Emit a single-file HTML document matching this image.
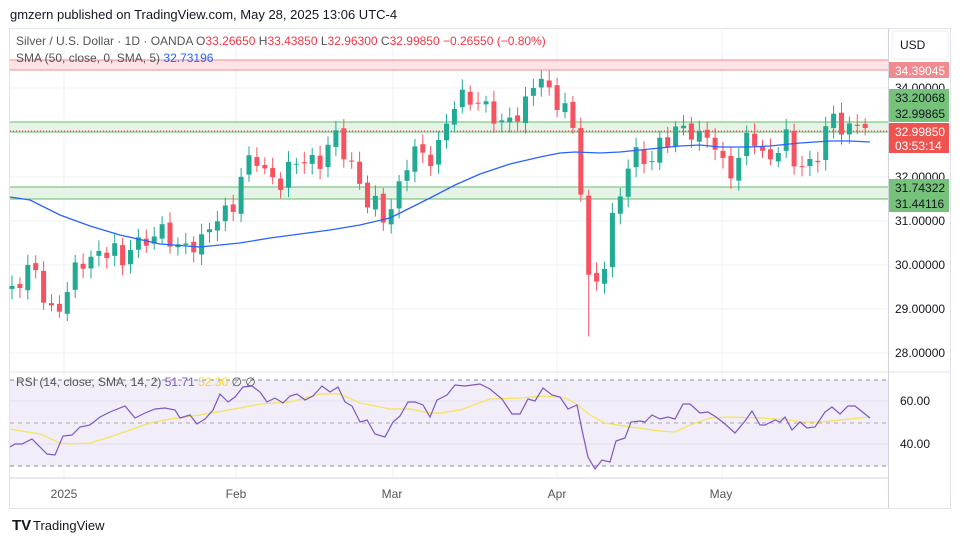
<!DOCTYPE html>
<html><head><meta charset="utf-8"><style>
body{margin:0;background:#fff;width:964px;height:544px;overflow:hidden;font-family:"Liberation Sans",sans-serif}
svg text{font-family:"Liberation Sans",sans-serif}
</style></head><body>
<svg id="s" width="964" height="544" xmlns="http://www.w3.org/2000/svg">
<rect width="964" height="544" fill="#fff"/>
<text x="10" y="19" font-size="13" fill="#131722">gmzern published on TradingView.com, May 28, 2025 13:06 UTC-4</text>
<rect x="9.5" y="28.5" width="941" height="480" fill="none" stroke="#e0e3eb"/>
<g id="grid"></g>
<rect x="10" y="60" width="878" height="10" fill="#fde3e5"/>
<line x1="10" x2="888" y1="60" y2="60" stroke="#f28b8f"/><line x1="10" x2="888" y1="70" y2="70" stroke="#f28b8f"/>
<rect x="10" y="122" width="878" height="10" fill="#e6f4e7"/>
<line x1="10" x2="888" y1="122" y2="122" stroke="#66bb6a"/><line x1="10" x2="888" y1="132" y2="132" stroke="#66bb6a"/>
<rect x="10" y="187" width="878" height="12" fill="#e6f4e7"/>
<line x1="10" x2="888" y1="187" y2="187" stroke="#66bb6a"/><line x1="10" x2="888" y1="199" y2="199" stroke="#66bb6a"/>
<line x1="10" x2="888" y1="131" y2="131" stroke="#f23645" stroke-dasharray="1,2"/>
<g id="c"></g>
<polyline fill="none" stroke="#2962ff" stroke-width="1.3" points="10,197 30,200 60,215 90,226 120,235 160,244 200,247 240,243 270,238 300,234 330,230 360,225 390,218 410,208 430,198 455,185 480,174 510,164 540,157 560,153 575,152 600,153 620,152 640,150 660,148 680,146 700,145 720,147 750,147 770,146 800,143 830,141 850,141 870,142"/>
<text x="16" y="45" font-size="12" fill="#555">Silver / U.S. Dollar · 1D · OANDA  <tspan fill="#555">O</tspan><tspan fill="#f23645">33.26650</tspan> H<tspan fill="#f23645">33.43850</tspan> L<tspan fill="#f23645">32.96300</tspan> C<tspan fill="#f23645">32.99850 −0.26550 (−0.80%)</tspan></text>
<text x="16" y="62" font-size="12" fill="#555">SMA (50, close, 0, SMA, 5)  <tspan fill="#2962ff">32.73196</tspan></text>
<line x1="10" x2="950" y1="372" y2="372" stroke="#e0e3eb"/>
<rect x="10" y="380" width="878" height="86" fill="#f1edf9"/>
<line x1="10" x2="888" y1="380" y2="380" stroke="#888" stroke-dasharray="4,4"/>
<line x1="10" x2="888" y1="423" y2="423" stroke="#aaa" stroke-dasharray="4,4"/>
<line x1="10" x2="888" y1="466" y2="466" stroke="#888" stroke-dasharray="4,4"/>
<line x1="10" x2="888" y1="401" y2="401" stroke="#e4e0ee"/><line x1="10" x2="888" y1="444" y2="444" stroke="#e4e0ee"/>
<polyline fill="none" stroke="#f7e35a" stroke-width="1.2" points="10,429 40,434 60,443 70,444 90,443 110,437 130,430 150,423 170,419 200,415 240,408 260,404 290,402 320,394 340,394 360,403 390,409 410,409 430,413 440,413 460,410 490,399 520,398 545,396 565,398 575,403 590,415 605,423 630,427 660,431 675,432 690,425 710,418 730,417 760,418 790,420 800,422 820,422 840,420 870,417"/>
<polyline fill="none" stroke="#7e57c2" stroke-width="1.2" points="10,447 15,444 22,444 32,439 47,454 55,455 63,436 72,435 80,427 90,425 100,417 110,412 125,406 135,418 145,413 155,409 165,408 175,410 180,418 190,415 197,424 205,419 213,410 220,394 228,402 235,397 243,387 252,386 260,392 267,402 275,398 283,403 290,396 297,394 305,400 313,396 322,386 330,392 338,387 345,402 352,406 360,422 367,420 375,434 385,437 393,422 400,416 408,402 415,402 423,405 430,417 437,400 447,395 455,385 465,386 480,384 490,389 502,399 512,414 520,414 528,399 535,401 543,388 552,395 560,397 568,409 577,405 582,430 588,457 595,469 602,460 610,462 616,441 625,438 631,422 640,421 645,422 652,415 660,419 668,417 675,419 683,404 690,404 700,413 708,412 716,417 725,424 735,433 745,421 752,411 760,425 765,425 775,420 780,422 785,417 792,430 800,422 807,428 815,427 825,412 832,407 840,414 848,406 855,406 870,418"/>
<text x="16" y="386" font-size="12" fill="#555">RSI (14, close, SMA, 14, 2)  <tspan fill="#7e57c2">51.71</tspan>  <tspan fill="#f7d733">52.30</tspan>  ∅  ∅</text>
<line x1="10" x2="888" y1="478" y2="478" stroke="#d1d4dc"/>
<line x1="888.5" x2="888.5" y1="28" y2="508" stroke="#d1d4dc"/>
<g font-size="12" fill="#555" text-anchor="middle">
<text x="64" y="498">2025</text><text x="236" y="498">Feb</text><text x="392" y="498">Mar</text><text x="557" y="498">Apr</text><text x="721" y="498">May</text></g>
<rect x="892" y="31" width="56" height="28" rx="3" fill="#fff" stroke="#eee"/>
<text x="900" y="49" font-size="12" fill="#131722">USD</text>
<g font-size="12" fill="#131722">
<text x="895" y="92">34.00000</text><text x="895" y="181">32.00000</text><text x="895" y="225">31.00000</text>
<text x="895" y="269">30.00000</text><text x="895" y="313">29.00000</text><text x="895" y="357">28.00000</text>
<text x="900" y="405">60.00</text><text x="900" y="448">40.00</text></g>
<rect x="889" y="62" width="60" height="16" fill="#f28b8f"/><text x="895" y="75" font-size="12" fill="#fff">34.39045</text>
<rect x="889" y="89" width="60" height="33" fill="#76c27a"/><text x="895" y="102" font-size="12" fill="#131722">33.20068</text><text x="895" y="118" font-size="12" fill="#131722">32.99865</text>
<rect x="889" y="123" width="60" height="30" fill="#ef5350"/><text x="895" y="136" font-size="12" fill="#fff">32.99850</text><text x="895" y="150" font-size="12" fill="#fff">03:53:14</text>
<rect x="889" y="179" width="60" height="33" fill="#76c27a"/><text x="895" y="192" font-size="12" fill="#131722">31.74322</text><text x="895" y="208" font-size="12" fill="#131722">31.44116</text>
<text x="12" y="530" font-size="15" font-weight="bold" fill="#131722">TV</text>
<text x="33" y="530" font-size="13" fill="#131722">TradingView</text>
</svg>
<script>
var NS="http://www.w3.org/2000/svg";
function el(p,t,a){var e=document.createElementNS(NS,t);for(var k in a)e.setAttribute(k,a[k]);p.appendChild(e);return e;}
var g=document.getElementById("grid");
[64,236,393,557,722].forEach(function(x){el(g,"line",{x1:x,x2:x,y1:28,y2:478,stroke:"#f0f1f4"});});
[88,132,177,221,265,309,353].forEach(function(y){el(g,"line",{x1:10,x2:888,y1:y,y2:y,stroke:"#f0f1f4"});});
var kp=[[12,29.5],[25,29.9],[35,29.8],[45,29.2],[55,28.9],[63,29.3],[75,29.8],[90,30.2],[105,30.4],[115,30.3],[120,29.7],[130,30.5],[145,30.6],[160,30.7],[175,30.5],[190,30.5],[200,30.4],[210,30.8],[222,31.4],[230,31.1],[240,31.9],[255,32.5],[265,32.2],[280,31.8],[295,32.3],[305,32.5],[320,32.3],[335,32.9],[345,32.6],[355,32.2],[365,31.4],[378,31.3],[385,31.0],[392,31.5],[402,31.9],[412,32.6],[425,32.4],[435,32.6],[445,33.1],[455,33.6],[465,33.8],[480,33.8],[490,33.4],[500,33.1],[510,33.3],[520,33.6],[530,33.8],[540,34.3],[550,33.8],[560,33.7],[570,33.8],[576,32.0],[582,31.6],[587,29.8],[593,29.3],[600,30.0],[605,30.2],[612,31.0],[620,31.5],[628,32.2],[640,32.7],[650,32.3],[660,32.7],[672,32.8],[680,33.3],[690,33.1],[700,32.8],[710,32.9],[720,32.4],[730,32.2],[740,32.4],[750,33.0],[765,32.4],[775,32.6],[785,32.9],[795,32.2],[805,32.3],[815,32.4],[825,33.0],[835,33.3],[845,33.0],[855,33.3],[865,33.2],[872,33.0]];
function interp(x){for(var i=1;i<kp.length;i++){if(x<=kp[i][0]){var a=kp[i-1],b=kp[i];return a[1]+(b[1]-a[1])*(x-a[0])/(b[0]-a[0]);}}return kp[kp.length-1][1];}
function Y(p){return 177-(p-32)*44.3;}
var c=document.getElementById("c"),prev=29.5,i=0;
for(var x=12;x<=873;x+=7.9){i++;
 var cl=interp(x)+0.18*Math.sin(i*2.3)+0.1*Math.sin(i*5.1);
 if(x>868)cl=33.0;
 var op=prev+0.05*Math.sin(i*3.7);
 var hi=Math.max(op,cl)+0.12+0.12*Math.abs(Math.sin(i*1.7));
 var lo=Math.min(op,cl)-0.12-0.12*Math.abs(Math.cos(i*2.9));
 if(Math.abs(x-589)<4)lo=28.4;
 var col=cl>=op?"#22ab94":"#f7525f";
 el(c,"line",{x1:x,x2:x,y1:Y(hi),y2:Y(lo),stroke:col});
 var t=Y(Math.max(op,cl)),h=Math.max(1,Y(Math.min(op,cl))-t);
 el(c,"rect",{x:x-2.5,y:t,width:5,height:h,fill:col});
 prev=cl;}
</script>
</body></html>
